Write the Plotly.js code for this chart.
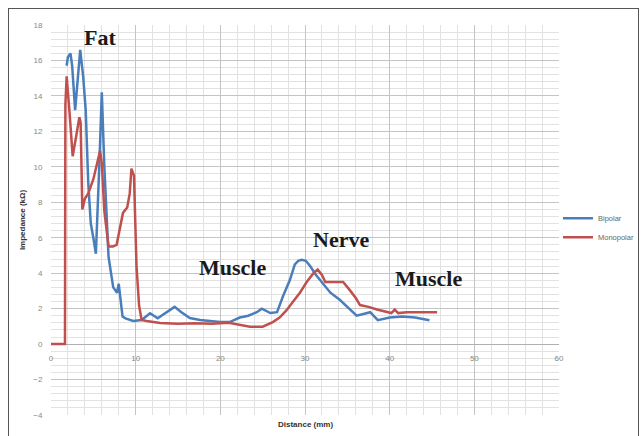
<!DOCTYPE html>
<html>
<head>
<meta charset="utf-8">
<script src="https://cdn.plot.ly/plotly-3.0.1.min.js"></script>
<style>
html,body{margin:0;padding:0;background:#fff;}
#wrap{position:relative;width:642px;height:436px;overflow:hidden;}
#frame{position:absolute;left:8px;top:8px;width:631px;height:440px;border:1px solid #555;box-sizing:border-box;pointer-events:none;}
#chart{position:absolute;left:0;top:0;width:642px;height:436px;}
</style>
</head>
<body>
<div id="wrap">
<div id="chart"></div>
<div id="frame"></div>
</div>
<script>
const bipolarX = [1.85, 2.0, 2.3, 2.5, 2.85, 3.1, 3.45, 3.8, 4.1, 4.4, 4.7, 5.0, 5.3, 5.7, 6.0, 6.3, 6.8, 7.35, 7.8, 8.0, 8.45, 8.8, 9.7, 10.7, 11.7, 12.6, 13.6, 14.6, 15.4, 16.4, 17.6, 19, 20, 21.1, 22.3, 23.3, 24.3, 24.9, 25.9, 26.7, 27.4, 28.2, 28.8, 29.2, 29.6, 30.1, 30.6, 31.3, 32.1, 33.0, 34.1, 35.0, 36.1, 36.9, 37.7, 38.6, 40.0, 41.5, 43.0, 44.7];
const bipolarY = [15.7, 16.2, 16.4, 15.7, 13.2, 14.5, 16.6, 15.1, 13.2, 9.1, 6.8, 6.0, 5.1, 10, 14.2, 10, 4.9, 3.2, 2.9, 3.4, 1.55, 1.45, 1.3, 1.36, 1.74, 1.46, 1.8, 2.1, 1.8, 1.47, 1.36, 1.3, 1.24, 1.24, 1.5, 1.6, 1.8, 2.0, 1.75, 1.8, 2.7, 3.6, 4.5, 4.7, 4.75, 4.7, 4.4, 3.9, 3.4, 2.9, 2.5, 2.1, 1.6, 1.7, 1.8, 1.35, 1.5, 1.55, 1.5, 1.35];

const monopolarX = [0, 1.65, 1.7, 1.85, 2.2, 2.56, 3.0, 3.35, 3.5, 3.7, 4.0, 4.4, 5.0, 5.5, 5.8, 6.0, 6.3, 6.8, 7.3, 7.75, 8.1, 8.5, 9.0, 9.3, 9.5, 9.8, 10.1, 10.4, 10.7, 11.3, 12.9, 15, 17, 19, 21, 22, 23.5, 25, 26.2, 27, 27.8, 28.6, 29.4, 30.2, 31.0, 31.5, 32.0, 32.4, 33.5, 34.5, 35.2, 36.0, 36.5, 37.5, 38.5, 39.5, 40.2, 40.6, 41.0, 42, 44, 45.6];
const monopolarY = [0, 0, 13.5, 15.1, 13.0, 10.6, 11.8, 12.8, 12.5, 7.6, 8.2, 8.5, 9.3, 10.2, 10.9, 10.2, 7.5, 5.5, 5.5, 5.6, 6.5, 7.4, 7.7, 8.5, 9.9, 9.5, 4.4, 2.2, 1.36, 1.3, 1.19, 1.15, 1.18, 1.15, 1.2, 1.1, 0.98, 0.98, 1.24, 1.5, 1.9, 2.4, 2.9, 3.5, 4.0, 4.2, 3.9, 3.5, 3.5, 3.5, 3.1, 2.6, 2.2, 2.1, 1.95, 1.85, 1.75, 1.95, 1.75, 1.8, 1.8, 1.8];

const regionLabels = ["Fat", "Muscle", "Nerve", "Muscle"];
const regionLabelX = [5.8, 21.4, 34.2, 44.6];
const regionLabelY = [17.3, 4.3, 5.9, 3.7];

const xTickVals = [0, 10, 20, 30, 40, 50, 60];
const yTickVals = [-4, -2, 0, 2, 4, 6, 8, 10, 12, 14, 16, 18];

const traces = [
  {x: bipolarX, y: bipolarY, type: 'scatter', mode: 'lines', name: 'Bipolar',
   line: {color: '#4a7ebb', width: 2.5}},
  {x: monopolarX, y: monopolarY, type: 'scatter', mode: 'lines', name: 'Monopolar',
   line: {color: '#c0504d', width: 2.5}}
];

const annotations = regionLabels.map((t, i) => ({
  x: regionLabelX[i], y: regionLabelY[i], xref: 'x', yref: 'y', text: t, showarrow: false,
  font: {family: 'Liberation Serif, Times New Roman, serif', size: 22, color: '#1a1a1a', weight: 'bold'}
}));
annotations.push({
  x: 30, y: -0.025, xref: 'x', yref: 'paper', text: 'Distance (mm)', showarrow: false,
  yanchor: 'middle', font: {family: 'Liberation Sans, Arial, sans-serif', size: 8, color: '#333', weight: 'bold'}
});

const layout = {
  width: 642, height: 436,
  margin: {l: 51, r: 83, t: 25, b: 21, autoexpand: false},
  paper_bgcolor: 'rgba(0,0,0,0)', plot_bgcolor: '#fff',
  showlegend: true,
  legend: {x: 0.998, y: 0.48, xanchor: 'left', yanchor: 'middle', bgcolor: 'rgba(0,0,0,0)',
           font: {family: 'Liberation Sans, Arial, sans-serif', size: 7.5, color: '#666'},
           itemwidth: 30, tracegroupgap: 4},
  xaxis: {
    range: [0, 60], tickvals: xTickVals, ticks: 'outside', ticklen: 6, tickcolor: 'rgba(0,0,0,0)',
    showline: false, zeroline: false,
    anchor: 'free', position: 4/22,
    showgrid: true, gridcolor: '#c4c4c4', gridwidth: 1,
    minor: {dtick: 2, showgrid: true, gridcolor: '#e2e2e2', gridwidth: 1},
    tickfont: {family: 'Liberation Sans, Arial, sans-serif', size: 8, color: '#888'},
    fixedrange: true
  },
  yaxis: {
    range: [-4, 18], tickvals: yTickVals, ticks: 'outside', ticklen: 6, tickcolor: 'rgba(0,0,0,0)',
    showline: false,
    zeroline: true, zerolinecolor: '#b0b0b0', zerolinewidth: 1,
    showgrid: true, gridcolor: '#c4c4c4', gridwidth: 1,
    minor: {dtick: 0.4, showgrid: true, gridcolor: '#e2e2e2', gridwidth: 1},
    tickfont: {family: 'Liberation Sans, Arial, sans-serif', size: 8, color: '#888'},
    title: {text: 'Impedance (kΩ)', standoff: 6,
            font: {family: 'Liberation Sans, Arial, sans-serif', size: 8, color: '#333', weight: 'bold'}},
    fixedrange: true
  },
  annotations: annotations
};

Plotly.newPlot('chart', traces, layout, {displayModeBar: false, staticPlot: true});
</script>
</body>
</html>
